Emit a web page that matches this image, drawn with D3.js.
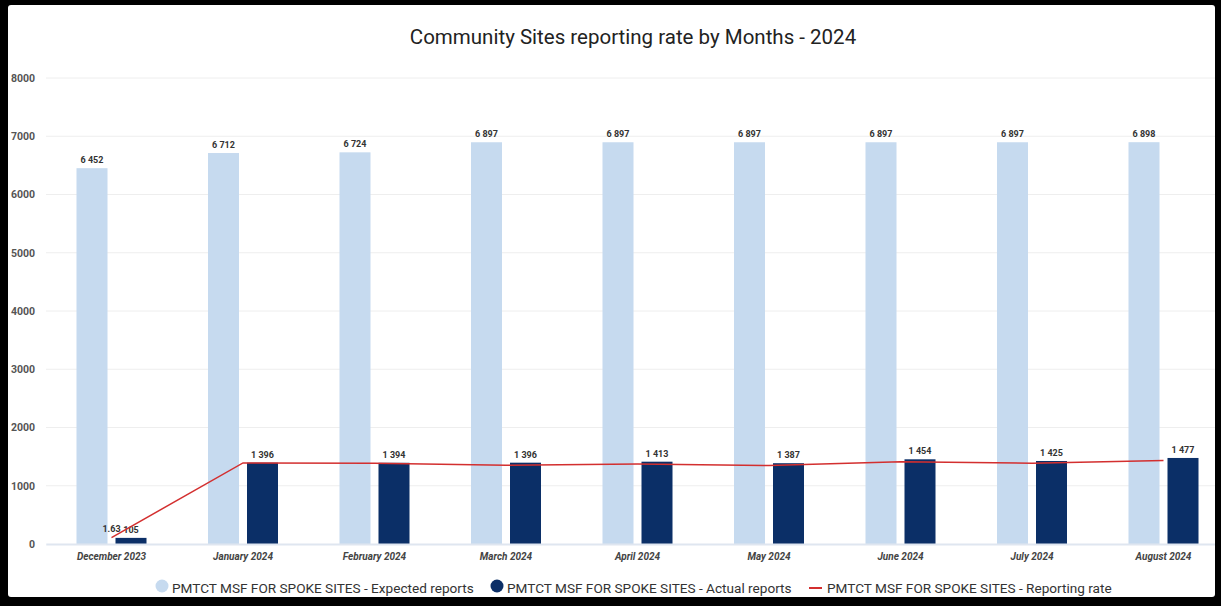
<!DOCTYPE html>
<html>
<head>
<meta charset="utf-8">
<script src="https://cdn.jsdelivr.net/npm/d3@7"></script>
<style>
  html, body { margin: 0; padding: 0; background: #000; }
  #chart { width: 1221px; height: 606px; }
  text { font-family: Roboto, "Noto Sans", sans-serif; }
</style>
</head>
<body>
<div id="chart"></div>
<script>
// data
var months = ["December 2023", "January 2024", "February 2024", "March 2024", "April 2024",
              "May 2024", "June 2024", "July 2024", "August 2024"];
var expected = [6452, 6712, 6724, 6897, 6897, 6897, 6897, 6897, 6898];
var actual = [105, 1396, 1394, 1396, 1413, 1387, 1454, 1425, 1477];
var rate = [1.63, 20.8, 20.7, 20.2, 20.5, 20.1, 21.1, 20.7, 21.4];
var yTicks = [0, 1000, 2000, 3000, 4000, 5000, 6000, 7000, 8000];
var legendLabels = ["PMTCT MSF FOR SPOKE SITES - Expected reports",
                    "PMTCT MSF FOR SPOKE SITES - Actual reports",
                    "PMTCT MSF FOR SPOKE SITES - Reporting rate"];

function init() {
    var w = 1221, h = 606;
    var lightBlue = "#c6daef", navy = "#0b2f67", red = "#d32f2f";
    var fmt = function(v) { return d3.format(",")(v).replace(/,/g, " "); };

    var svg = d3.select("#chart").append("svg")
                .attr("width", w)
                .attr("height", h);

    // black frame with white card inside
    svg.append("rect").attr("width", w).attr("height", h).attr("fill", "#000");
    svg.append("rect")
       .attr("x", 8).attr("y", 5)
       .attr("width", 1207).attr("height", 592)
       .attr("rx", 3)
       .attr("fill", "#fff");

    svg.append("clipPath").attr("id", "card")
       .append("rect").attr("x", 8).attr("y", 5).attr("width", 1207).attr("height", 592);

    var g = svg.append("g").attr("clip-path", "url(#card)");

    // title
    g.append("text")
       .attr("x", 633).attr("y", 44)
       .attr("text-anchor", "middle")
       .attr("font-size", 20.5)
       .attr("fill", "#222")
       .text("Community Sites reporting rate by Months - 2024");

    var step = 131.5;
    var xScale = d3.scaleBand()
                   .domain(months)
                   .range([45.75, 45.75 + step * months.length]);

    var yScale = d3.scaleLinear().domain([0, 8000]).range([544, 78]);
    var rScale = d3.scaleLinear().domain([0, 119.5]).range([544, 78]);

    var barW = 31, gap = 8;

    // gridlines
    g.append("g").selectAll("line")
       .data(yTicks.slice(1))
       .enter().append("line")
       .attr("x1", 46).attr("x2", w)
       .attr("y1", function(d) { return yScale(d); })
       .attr("y2", function(d) { return yScale(d); })
       .attr("stroke", "#eeeeee")
       .attr("stroke-width", 1);

    // y axis labels (no domain line)
    var yAxis = g.append("g")
       .attr("transform", "translate(35,0)")
       .call(d3.axisLeft(yScale).tickValues(yTicks).tickSize(0).tickPadding(0).tickFormat(d3.format("d")));
    yAxis.select(".domain").remove();
    yAxis.selectAll("text")
       .attr("font-family", "Roboto, sans-serif")
       .attr("font-size", 10.5)
       .attr("font-weight", "bold")
       .attr("fill", "#555");

    // expected bars
    g.append("g").selectAll("rect")
       .data(expected)
       .enter().append("rect")
       .attr("x", function(d, i) { return xScale(months[i]) + xScale.bandwidth() / 2 - gap / 2 - barW; })
       .attr("y", function(d) { return yScale(d); })
       .attr("width", barW)
       .attr("height", function(d) { return yScale(0) - yScale(d); })
       .attr("fill", lightBlue);

    // actual bars
    g.append("g").selectAll("rect")
       .data(actual)
       .enter().append("rect")
       .attr("x", function(d, i) { return xScale(months[i]) + xScale.bandwidth() / 2 + gap / 2; })
       .attr("y", function(d) { return yScale(d); })
       .attr("width", barW)
       .attr("height", function(d) { return yScale(0) - yScale(d); })
       .attr("fill", navy);

    // x axis
    var xAxis = g.append("g")
       .attr("transform", "translate(0,544)")
       .call(d3.axisBottom(xScale).tickSize(0).tickPadding(9));
    xAxis.select(".domain").attr("stroke", "#dfe6f0").attr("stroke-width", 2);
    xAxis.selectAll("text")
       .attr("font-family", "Roboto, sans-serif")
       .attr("font-size", 10)
       .attr("font-weight", "bold")
       .attr("font-style", "italic")
       .attr("fill", "#444");

    // value labels
    g.append("g").selectAll("text")
       .data(expected)
       .enter().append("text")
       .attr("x", function(d, i) { return xScale(months[i]) + xScale.bandwidth() / 2 - gap / 2 - barW / 2; })
       .attr("y", function(d) { return yScale(d) - 5; })
       .attr("text-anchor", "middle")
       .attr("font-size", 9)
       .attr("font-weight", "bold")
       .attr("fill", "#333")
       .text(fmt);

    g.append("g").selectAll("text")
       .data(actual)
       .enter().append("text")
       .attr("x", function(d, i) { return xScale(months[i]) + xScale.bandwidth() / 2 + gap / 2 + barW / 2; })
       .attr("y", function(d) { return yScale(d) - 5; })
       .attr("text-anchor", "middle")
       .attr("font-size", 9)
       .attr("font-weight", "bold")
       .attr("fill", "#333")
       .text(fmt);

    // reporting rate line
    var line = d3.line()
                 .x(function(d, i) { return xScale(months[i]) + xScale.bandwidth() / 2; })
                 .y(function(d) { return rScale(d); });
    g.append("path")
       .datum(rate)
       .attr("d", line)
       .attr("fill", "none")
       .attr("stroke", red)
       .attr("stroke-width", 1.5);

    // only the first rate label is visible in the picture
    g.append("text")
       .attr("x", xScale(months[0]) + xScale.bandwidth() / 2)
       .attr("y", rScale(rate[0]) - 6)
       .attr("text-anchor", "middle")
       .attr("font-size", 9)
       .attr("font-weight", "bold")
       .attr("fill", "#333")
       .text(rate[0]);

    // legend
    var legendX = [172, 507, 827];
    var lg = g.append("g").attr("transform", "translate(0,588)");
    lg.append("circle").attr("cx", 162).attr("cy", -2).attr("r", 6.5).attr("fill", lightBlue);
    lg.append("circle").attr("cx", 497).attr("cy", -2).attr("r", 6.5).attr("fill", navy);
    lg.append("line").attr("x1", 809).attr("x2", 822).attr("y1", 0).attr("y2", 0)
      .attr("stroke", red).attr("stroke-width", 2);
    lg.selectAll("text.leg")
      .data(legendLabels)
      .enter().append("text")
      .attr("class", "leg")
      .attr("x", function(d, i) { return legendX[i]; })
      .attr("y", 5)
      .attr("font-size", 13.6)
      .attr("fill", "#333")
      .text(function(d) { return d; });
}

window.onload = init;
</script>
</body>
</html>
